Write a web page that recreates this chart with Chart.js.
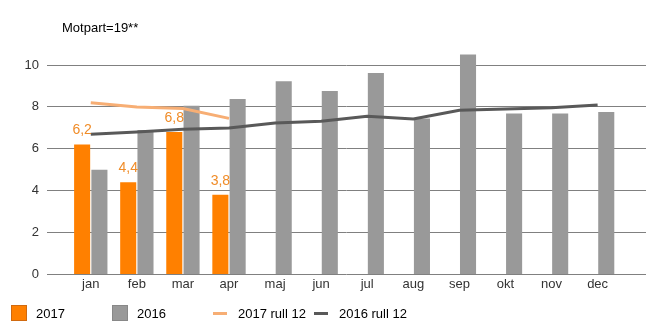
<!DOCTYPE html>
<html><head><meta charset="utf-8">
<script src="https://cdn.jsdelivr.net/npm/chart.js@4/dist/chart.umd.min.js"></script>
<style>
html,body{margin:0;padding:0;background:#fff;}
#wrap{position:relative;width:656px;height:331px;font-family:"Liberation Sans",Arial,sans-serif;}
#c{position:absolute;left:0;top:0;}
#title{position:absolute;left:62px;top:20px;font-size:13px;color:#000;}
#legend{position:absolute;left:11px;top:305px;height:17px;}
.li{position:absolute;top:0;width:101px;height:17px;font-size:13px;color:#000;white-space:nowrap;}
.sw{position:absolute;left:0;top:0;width:14px;height:14px;}
.ln{position:absolute;left:0;top:7px;width:14px;height:3px;}
.lt{position:absolute;left:25px;top:0;line-height:17px;}
</style></head>
<body>
<div id="wrap">
<canvas id="c" width="656" height="331"></canvas>
<div id="title">Motpart=19**</div>
<div id="legend"></div>
</div>
<script>
const months = ["jan","feb","mar","apr","maj","jun","jul","aug","sep","okt","nov","dec"];
const bars2017 = [6.2, 4.4, 6.8, 3.8];
const labels2017 = ["6,2","4,4","6,8","3,8"];
const bars2016 = [5.0, 6.9, 8.05, 8.38, 9.22, 8.76, 9.62, 7.44, 10.5, 7.68, 7.68, 7.76];
const rull2017 = [8.2, 8.0, 7.92, 7.45];
const rull2016 = [6.69, 6.8, 6.93, 6.99, 7.23, 7.31, 7.55, 7.42, 7.84, 7.9, 7.96, 8.09];
const yTicks = [0, 2, 4, 6, 8, 10];

const pts = arr => arr.map((v, i) => ({x: i, y: v}));

const dataLabels = {
  id: 'dataLabels',
  afterDatasetsDraw(chart) {
    const meta = chart.getDatasetMeta(0);
    const ctx = chart.ctx;
    ctx.save();
    ctx.font = '14px "Liberation Sans", Arial, sans-serif';
    ctx.fillStyle = '#F08C28';
    ctx.textAlign = 'center';
    ctx.textBaseline = 'bottom';
    meta.data.forEach((el, i) => {
      ctx.fillText(labels2017[i], el.x, el.y - 7);
    });
    ctx.restore();
  }
};

const chart = new Chart(document.getElementById('c'), {
  data: {
    datasets: [
      {type:'bar', label:'2017', data: pts(bars2017), backgroundColor:'#FF8000', borderColor:'#D06A10', order:2, clip:false,
       categoryPercentage:0.75, barPercentage:0.93},
      {type:'bar', label:'2016', data: pts(bars2016), backgroundColor:'#999999', borderColor:'#888888', order:2, clip:false,
       categoryPercentage:0.75, barPercentage:0.93},
      {type:'line', label:'2017 rull 12', data: pts(rull2017), borderColor:'#F7AE74', borderWidth:3, pointRadius:0, tension:0, order:1},
      {type:'line', label:'2016 rull 12', data: pts(rull2016), borderColor:'#595959', borderWidth:3, pointRadius:0, tension:0, order:1}
    ]
  },
  options: {
    responsive:false,
    animation:false,
    layout:{padding:{top:65, bottom:37, right:10, left:0}},
    plugins:{legend:{display:false}, tooltip:{enabled:false}, title:{display:false}},
    scales:{
      x:{type:'linear', min:-0.95, max:12.05, offset:false,
         afterBuildTicks: s => { s.ticks = months.map((m,i)=>({value:i})); },
         ticks:{callback:(v)=>months[v] ?? '', color:'#333', font:{size:13, family:'"Liberation Sans", Arial, sans-serif'}, autoSkip:false, maxRotation:0, padding:2},
         grid:{display:false, drawTicks:false}, border:{display:false}},
      y:{min:0, max:10,
         afterBuildTicks: s => { s.ticks = yTicks.map(v=>({value:v})); },
         afterFit: s => { s.width = 47; },
         ticks:{color:'#333', font:{size:13, family:'"Liberation Sans", Arial, sans-serif'}, padding:8},
         grid:{color:'#808080', lineWidth:1, drawTicks:false}, border:{display:false}}
    }
  },
  plugins:[dataLabels]
});

// HTML legend from chart datasets
const lg = document.getElementById('legend');
chart.data.datasets.forEach((ds, i) => {
  const d = document.createElement('div');
  d.className = 'li';
  d.style.left = (i * 101) + 'px';
  const m = document.createElement('div');
  if (ds.type === 'bar') {
    m.className = 'sw';
    m.style.background = ds.backgroundColor;
    m.style.border = '1px solid ' + ds.borderColor;
  } else {
    m.className = 'ln';
    m.style.background = ds.borderColor;
  }
  const t = document.createElement('div');
  t.className = 'lt';
  t.textContent = ds.label;
  d.appendChild(m); d.appendChild(t);
  lg.appendChild(d);
});
</script>
</body></html>
